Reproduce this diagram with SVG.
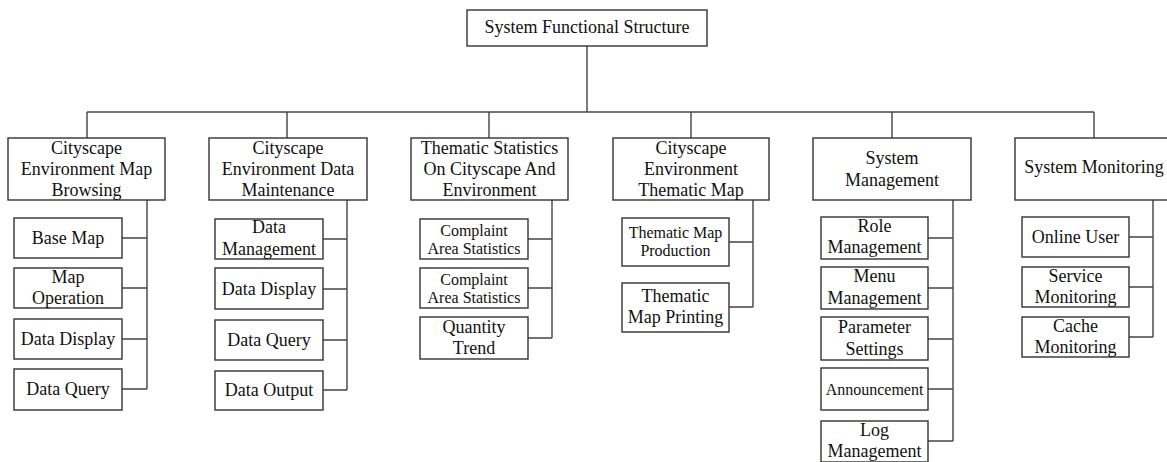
<svg xmlns="http://www.w3.org/2000/svg" width="1167" height="462" viewBox="0 0 1167 462">
  <style>
    .box { fill: #ffffff; stroke: #333333; stroke-width: 1.4; }
    .link { fill: none; stroke: #444444; stroke-width: 1.4; }
    text { fill: #111111; text-anchor: middle; }
    .t18 { font-size: 18px; }
    .t16 { font-size: 16px; }
  </style>
  <rect width="1167" height="462" fill="#ffffff"/>

  <!-- connectors -->
  <g id="connectors" class="link">
    <!-- root to main bus -->
    <path d="M587 46 V112"/>
    <path d="M87 112 H1094"/>
    <path d="M87 112 V138 M287 112 V138 M489 112 V138 M691 112 V138 M892 112 V138 M1094 112 V138"/>
    <!-- column 1 -->
    <path d="M147 200 V389 M122 238 H147 M122 288 H147 M122 339 H147 M122 389 H147"/>
    <!-- column 2 -->
    <path d="M347 200 V390 M323 239 H347 M323 289 H347 M323 340 H347 M323 390 H347"/>
    <!-- column 3 -->
    <path d="M552 200 V338 M528 239 H552 M528 288 H552 M528 338 H552"/>
    <!-- column 4 -->
    <path d="M753 200 V307 M729 242 H753 M729 307 H753"/>
    <!-- column 5 -->
    <path d="M953 200 V441 M928 238 H953 M928 288 H953 M928 339 H953 M928 389 H953 M928 441 H953"/>
    <!-- column 6 -->
    <path d="M1153 200 V337 M1129 237 H1153 M1129 287 H1153 M1129 337 H1153"/>
  </g>

  <g font-family="Liberation Serif, Tinos, Times New Roman, DejaVu Serif, serif">
  <!-- root -->
  <g id="root">
    <rect class="box" x="467" y="10" width="240" height="36"/>
    <text class="t18" x="587" y="33">System Functional Structure</text>
  </g>

  <!-- first level -->
  <g id="map-browsing">
    <rect class="box" x="8" y="138" width="157" height="62"/>
    <text class="t18" x="86.5" y="154">Cityscape</text>
    <text class="t18" x="86.5" y="175">Environment Map</text>
    <text class="t18" x="86.5" y="196">Browsing</text>
  </g>
  <g id="data-maintenance">
    <rect class="box" x="209" y="138" width="158" height="62"/>
    <text class="t18" x="288" y="154">Cityscape</text>
    <text class="t18" x="288" y="175">Environment Data</text>
    <text class="t18" x="288" y="196">Maintenance</text>
  </g>
  <g id="thematic-statistics">
    <rect class="box" x="411" y="138" width="157" height="62"/>
    <text class="t18" x="489.5" y="154">Thematic Statistics</text>
    <text class="t18" x="489.5" y="175">On Cityscape And</text>
    <text class="t18" x="489.5" y="196">Environment</text>
  </g>
  <g id="thematic-map">
    <rect class="box" x="613" y="138" width="156" height="62"/>
    <text class="t18" x="691" y="154">Cityscape</text>
    <text class="t18" x="691" y="175">Environment</text>
    <text class="t18" x="691" y="196">Thematic Map</text>
  </g>
  <g id="system-management">
    <rect class="box" x="813" y="138" width="158" height="62"/>
    <text class="t18" x="892" y="164">System</text>
    <text class="t18" x="892" y="186">Management</text>
  </g>
  <g id="system-monitoring">
    <rect class="box" x="1015" y="138" width="158" height="62"/>
    <text class="t18" x="1094" y="173">System Monitoring</text>
  </g>

  <!-- column 1 items -->
  <g id="base-map">
    <rect class="box" x="14" y="218" width="108" height="40"/>
    <text class="t18" x="68" y="244">Base Map</text>
  </g>
  <g id="map-operation">
    <rect class="box" x="14" y="268" width="108" height="40"/>
    <text class="t18" x="68" y="283">Map</text>
    <text class="t18" x="68" y="304">Operation</text>
  </g>
  <g id="c1-data-display">
    <rect class="box" x="14" y="319" width="108" height="40"/>
    <text class="t18" x="68" y="345">Data Display</text>
  </g>
  <g id="c1-data-query">
    <rect class="box" x="14" y="369" width="108" height="41"/>
    <text class="t18" x="68" y="395">Data Query</text>
  </g>

  <!-- column 2 items -->
  <g id="data-management">
    <rect class="box" x="215" y="219" width="108" height="40"/>
    <text class="t18" x="269" y="233">Data</text>
    <text class="t18" x="269" y="255">Management</text>
  </g>
  <g id="c2-data-display">
    <rect class="box" x="215" y="268" width="108" height="41"/>
    <text class="t18" x="269" y="295">Data Display</text>
  </g>
  <g id="c2-data-query">
    <rect class="box" x="215" y="320" width="108" height="40"/>
    <text class="t18" x="269" y="346">Data Query</text>
  </g>
  <g id="data-output">
    <rect class="box" x="215" y="371" width="108" height="39"/>
    <text class="t18" x="269" y="396">Data Output</text>
  </g>

  <!-- column 3 items -->
  <g id="complaint-1">
    <rect class="box" x="420" y="219" width="108" height="40"/>
    <text class="t16" x="474" y="236">Complaint</text>
    <text class="t16" x="474" y="254">Area Statistics</text>
  </g>
  <g id="complaint-2">
    <rect class="box" x="420" y="268" width="108" height="40"/>
    <text class="t16" x="474" y="285">Complaint</text>
    <text class="t16" x="474" y="303">Area Statistics</text>
  </g>
  <g id="quantity-trend">
    <rect class="box" x="420" y="317" width="108" height="42"/>
    <text class="t18" x="474" y="333">Quantity</text>
    <text class="t18" x="474" y="354">Trend</text>
  </g>

  <!-- column 4 items -->
  <g id="thematic-production">
    <rect class="box" x="622" y="218" width="107" height="48"/>
    <text class="t16" x="675.5" y="238">Thematic Map</text>
    <text class="t16" x="675.5" y="256">Production</text>
  </g>
  <g id="thematic-printing">
    <rect class="box" x="622" y="283" width="107" height="49"/>
    <text class="t18" x="675.5" y="302">Thematic</text>
    <text class="t18" x="675.5" y="323">Map Printing</text>
  </g>

  <!-- column 5 items -->
  <g id="role-management">
    <rect class="box" x="821" y="217" width="107" height="42"/>
    <text class="t18" x="874.5" y="232">Role</text>
    <text class="t18" x="874.5" y="253">Management</text>
  </g>
  <g id="menu-management">
    <rect class="box" x="821" y="267" width="107" height="42"/>
    <text class="t18" x="874.5" y="282">Menu</text>
    <text class="t18" x="874.5" y="304">Management</text>
  </g>
  <g id="parameter-settings">
    <rect class="box" x="821" y="317" width="107" height="43"/>
    <text class="t18" x="874.5" y="333">Parameter</text>
    <text class="t18" x="874.5" y="355">Settings</text>
  </g>
  <g id="announcement">
    <rect class="box" x="821" y="368" width="107" height="42"/>
    <text class="t16" x="874.5" y="395">Announcement</text>
  </g>
  <g id="log-management">
    <rect class="box" x="821" y="421" width="107" height="41"/>
    <text class="t18" x="874.5" y="436">Log</text>
    <text class="t18" x="874.5" y="457">Management</text>
  </g>

  <!-- column 6 items -->
  <g id="online-user">
    <rect class="box" x="1022" y="217" width="107" height="40"/>
    <text class="t18" x="1075.5" y="243">Online User</text>
  </g>
  <g id="service-monitoring">
    <rect class="box" x="1022" y="267" width="107" height="40"/>
    <text class="t18" x="1075.5" y="282">Service</text>
    <text class="t18" x="1075.5" y="303">Monitoring</text>
  </g>
  <g id="cache-monitoring">
    <rect class="box" x="1022" y="317" width="107" height="40"/>
    <text class="t18" x="1075.5" y="332">Cache</text>
    <text class="t18" x="1075.5" y="353">Monitoring</text>
  </g>
  </g>
</svg>
